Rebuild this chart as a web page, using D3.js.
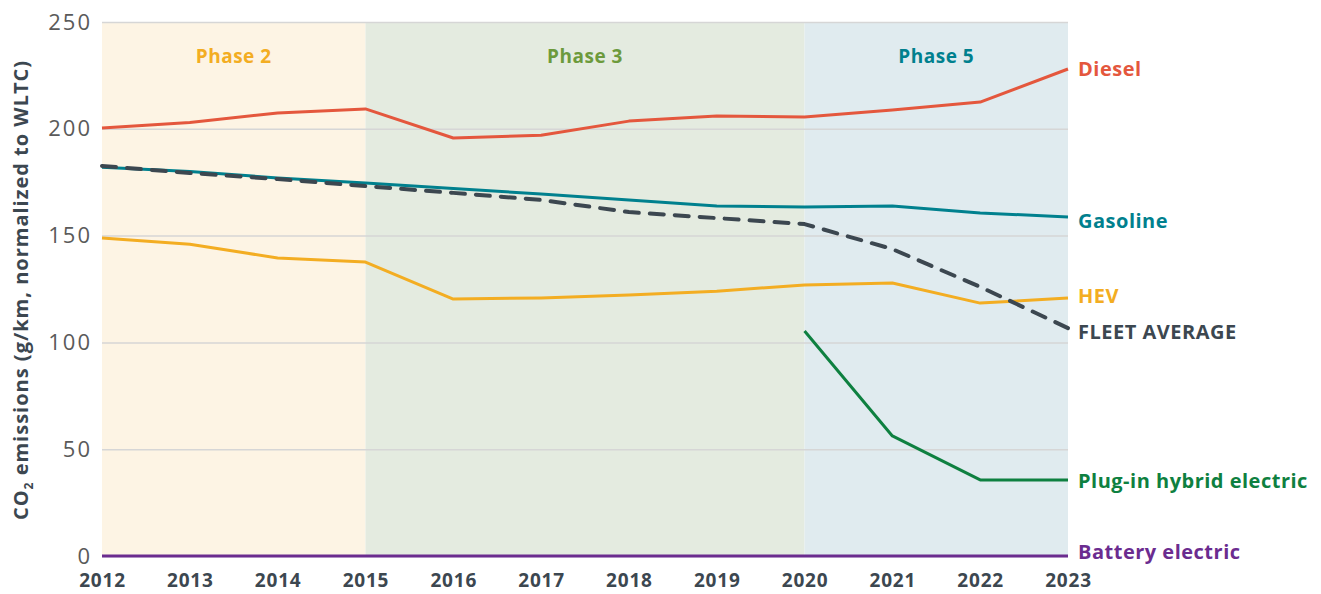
<!DOCTYPE html>
<html>
<head>
<meta charset="utf-8">
<script src="https://cdn.jsdelivr.net/npm/d3@7"></script>
<style>
  body { margin: 0; background: #fff; }
  text { font-family: "Open Sans", sans-serif; }
</style>
</head>
<body>
<script>
var years = [2012, 2013, 2014, 2015, 2016, 2017, 2018, 2019, 2020, 2021, 2022, 2023];

var diesel   = [200.4, 203, 207.4, 209.3, 195.7, 197, 203.6, 206, 205.5, 208.8, 212.5, 228];
var gasoline = [182, 180, 177, 174.6, 172, 169.5, 166.7, 163.9, 163.4, 163.9, 160.6, 158.7];
var hev      = [148.9, 146, 139.5, 137.6, 120.3, 120.8, 122.2, 124, 126.9, 127.8, 118.4, 120.8];
var fleet    = [182.6, 179.3, 176.5, 173.2, 170, 166.7, 161, 158.2, 155.4, 143.7, 126, 106.7];
var phev     = [null, null, null, null, null, null, null, null, 105.3, 56.2, 35.6, 35.6];
var bev      = [0, 0, 0, 0, 0, 0, 0, 0, 0, 0, 0, 0];

var phaseNames = ["Phase 2", "Phase 3", "Phase 5"];
var phaseStart = [2012, 2015, 2020];
var phaseEnd   = [2015, 2020, 2023];

var yTicks = [0, 50, 100, 150, 200, 250];

var series = [
  {name: "Diesel", values: diesel, color: "#e4573d", dy: 0},
  {name: "Gasoline", values: gasoline, color: "#00808e", dy: 4},
  {name: "HEV", values: hev, color: "#f3ad22", dy: -2},
  {name: "FLEET AVERAGE", values: fleet, color: "#3c4750", dy: 4, dash: true},
  {name: "Plug-in hybrid electric", values: phev, color: "#0e8040", dy: 1},
  {name: "Battery electric", values: bev, color: "#6b2c8f", dy: -4}
];
var phaseFill = ["#fdf4e4", "#e4ebe0", "#e0ebef"];
var phaseText = ["#f3ad22", "#6c9a3c", "#00808e"];

var margin = {top: 22, right: 253, bottom: 38, left: 102},
    width = 1321 - margin.left - margin.right,
    height = 594 - margin.top - margin.bottom;

var x = d3.scaleLinear().domain([2012, 2023]).range([0, width]);
var y = d3.scaleLinear().domain([0, 250]).range([height, 0]);

var svg = d3.select('body').append('svg')
    .attr('width', 1321).attr('height', 594);

var main = svg.append('g')
    .attr('transform', 'translate(' + margin.left + ',' + margin.top + ')');

// phase bands
main.selectAll('rect.phase')
    .data(phaseNames)
    .enter().append('rect')
    .attr('x', function (d, i) { return x(phaseStart[i]); })
    .attr('y', 0)
    .attr('width', function (d, i) { return x(phaseEnd[i]) - x(phaseStart[i]); })
    .attr('height', height)
    .attr('fill', function (d, i) { return phaseFill[i]; });

main.selectAll('text.phase')
    .data(phaseNames)
    .enter().append('text')
    .attr('x', function (d, i) { return (x(phaseStart[i]) + x(phaseEnd[i])) / 2; })
    .attr('y', 41)
    .attr('text-anchor', 'middle')
    .attr('font-size', 19)
    .attr('font-weight', 'bold')
    .attr('letter-spacing', 0.5)
    .attr('fill', function (d, i) { return phaseText[i]; })
    .text(function (d) { return d; });

// grid + y labels
var yAxis = d3.axisLeft(y).tickValues(yTicks).tickSize(-width).tickPadding(10);
var ya = main.append('g').call(yAxis);
ya.select('.domain').remove();
ya.selectAll('.tick line').attr('stroke', '#d6d6d6').attr('stroke-width', 1.5);
ya.selectAll('.tick text')
    .attr('font-size', 22)
    .attr('letter-spacing', 2)
    .attr('fill', '#5a5a5a')
    .style('font-family', '"Open Sans", sans-serif');

// x labels
var xAxis = d3.axisBottom(x).tickValues(years).tickFormat(d3.format('d')).tickSize(0).tickPadding(18);
var xa = main.append('g').attr('transform', 'translate(0,' + height + ')').call(xAxis);
xa.select('.domain').remove();
xa.selectAll('.tick text')
    .attr('font-size', 19)
    .attr('font-weight', 'bold')
    .attr('letter-spacing', 0.8)
    .attr('fill', '#3c4750')
    .style('font-family', '"Open Sans", sans-serif');

// lines
var line = d3.line()
    .defined(function (d) { return d != null; })
    .x(function (d, i) { return x(years[i]); })
    .y(function (d) { return y(d); });

series.forEach(function (s) {
  main.append('path')
      .datum(s.values)
      .attr('fill', 'none')
      .attr('stroke', s.color)
      .attr('stroke-width', s.dash ? 4 : 3)
      .attr('stroke-linecap', s.dash ? 'round' : 'butt')
      .attr('stroke-linejoin', 'round')
      .attr('stroke-dasharray', s.dash ? '14,11' : null)
      .attr('d', line);

  var last = s.values[s.values.length - 1];
  main.append('text')
      .attr('x', width + 10)
      .attr('y', y(last) + s.dy)
      .attr('dy', '0.35em')
      .attr('font-size', 20)
      .attr('font-weight', 'bold')
      .attr('letter-spacing', 0.5)
      .attr('fill', s.color)
      .text(s.name);
});

// y axis title
var yt = svg.append('text')
    .attr('transform', 'translate(28,290) rotate(-90)')
    .attr('text-anchor', 'middle')
    .attr('font-size', 20)
    .attr('font-weight', 'bold')
    .attr('letter-spacing', 1)
    .attr('fill', '#3c4750');
yt.append('tspan').text('CO');
yt.append('tspan').attr('font-size', 12).attr('dy', 5).text('2');
yt.append('tspan').attr('dy', -5).text(' emissions (g/km, normalized to WLTC)');
</script>
</body>
</html>
